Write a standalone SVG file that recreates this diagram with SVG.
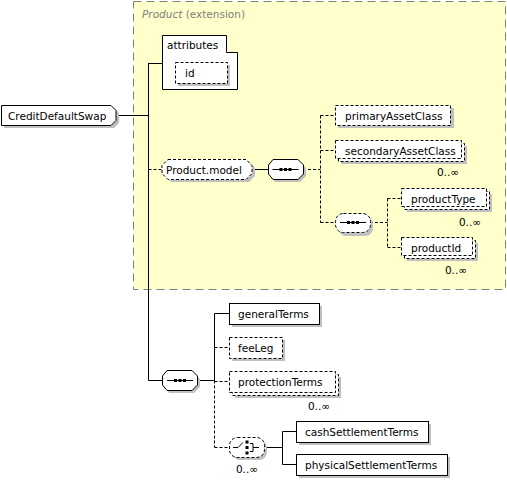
<svg xmlns="http://www.w3.org/2000/svg" width="507" height="481" viewBox="0 0 507 481">
<style>
text{font-family:"DejaVu Sans","Liberation Sans",sans-serif;font-size:10.5px;fill:#000}
.occ{font-size:10.5px}
.hdr{fill:#808080}
.box{fill:#fff;stroke:#000;stroke-width:1}
.opt{stroke-dasharray:3,2}
.sh{fill:#c0c0c0;stroke:none}
.ln{fill:none;stroke:#000;stroke-width:1}
.dl{fill:none;stroke:#000;stroke-width:1;stroke-dasharray:3,2}
</style>
<defs>
<g id="seqicon">
<path d="M-13 0H13" stroke="#000" stroke-width="1"/>
<rect x="-6" y="-1.5" width="3" height="3" fill="#000"/>
<rect x="-1.5" y="-1.5" width="3" height="3" fill="#000"/>
<rect x="3" y="-1.5" width="3" height="3" fill="#000"/>
</g>
</defs>
<g id="extension">
<rect x="133.5" y="1.5" width="372" height="288" fill="#ffffcc" stroke="#808080" stroke-dasharray="8,5"/>
<text x="142" y="18" class="hdr"><tspan font-style="italic">Product</tspan> (extension)</text>
</g>
<g id="connectors">
<path class="ln" d="M116 115.5H148.5M148.5 63V380.5M148.5 63.5H162M148.5 380.5H162M252 169.5H268"/>
<path class="dl" d="M148.5 169.5H162"/>
<path class="dl" d="M303 169.5H320.5M320.5 115.5V222.5M320.5 115.5H335M320.5 150.5H335M320.5 222.5H335"/>
<path class="dl" d="M370 222.5H387.5M387.5 198.5V247.5M387.5 198.5H401M387.5 247.5H401"/>
<path class="ln" d="M197 380.5H214.5M214.5 313.5V380.5M214.5 313.5H229"/>
<path class="dl" d="M214.5 380.5V447.5M214.5 347.5H229M214.5 381.5H229M214.5 447.5H229"/>
<path class="ln" d="M264 447.5H282.5M282.5 431.5V464.5M282.5 431.5H296M282.5 464.5H296"/>
</g>
<g id="CreditDefaultSwap">
<path class="sh" d="M4 108H114L119 113V123L114 128H4Z"/>
<path class="box" d="M1.5 105.5H111L116 110.5V120.5L111 125.5H1.5Z"/>
<text x="8" y="119.5">CreditDefaultSwap</text>
</g>
<g id="attributes">
<path class="box" d="M162.5 35.5H226.5V52.5H237.5V89.5H162.5Z"/>
<text x="167" y="49">attributes</text>
</g>
<g id="id">
<rect class="sh" x="178" y="65" width="52" height="21"/>
<rect class="box opt" x="175.5" y="62.5" width="52" height="21"/>
<text x="185" y="77">id</text>
</g>
<g id="Product.model">
<path class="sh" d="M171 162H249L255 168V176L249 182H171L165 176V168Z"/>
<path class="box opt" d="M168 159.5H246L252 165.5V173.5L246 179.5H168L162 173.5V165.5Z"/>
<text x="166" y="174">Product.model</text>
</g>
<g id="seq1">
<path class="sh" d="M275 162H300L306 168V176L300 182H275L271 176V168Z"/>
<path class="box" d="M273 159.5H298L303.5 165V174L298 179.5H273L268.5 174V165Z"/>
<use href="#seqicon" x="285.5" y="169.5"/>
</g>
<g id="primaryAssetClass">
<rect class="sh" x="338" y="108" width="116" height="20"/>
<rect class="box opt" x="335.5" y="105.5" width="115" height="20"/>
<text x="345" y="120">primaryAssetClass</text>
</g>
<g id="secondaryAssetClass">
<rect class="sh" x="341" y="146" width="126" height="18"/>
<rect class="box opt" x="338.5" y="143.5" width="126" height="18"/>
<rect class="box opt" x="335.5" y="140.5" width="126" height="18"/>
<text x="345" y="155">secondaryAssetClass</text>
<text class="occ" x="459" y="176" text-anchor="end">0..∞</text>
</g>
<g id="seq2">
<rect class="sh" x="338" y="216" width="35" height="20" rx="8"/>
<rect class="box opt" x="335.5" y="213.5" width="35" height="19" rx="8"/>
<use href="#seqicon" x="353" y="222.5"/>
</g>
<g id="productType">
<rect class="sh" x="407" y="194" width="85" height="18"/>
<rect class="box opt" x="404.5" y="191.5" width="85" height="18"/>
<rect class="box opt" x="401.5" y="188.5" width="85" height="18"/>
<text x="411" y="203">productType</text>
<text class="occ" x="481" y="226" text-anchor="end">0..∞</text>
</g>
<g id="productId">
<rect class="sh" x="407" y="243" width="71" height="18"/>
<rect class="box opt" x="404.5" y="240.5" width="71" height="18"/>
<rect class="box opt" x="401.5" y="237.5" width="71" height="18"/>
<text x="411" y="252">productId</text>
<text class="occ" x="467" y="274" text-anchor="end">0..∞</text>
</g>
<g id="seq3">
<path class="sh" d="M169 373H194L200 379V387L194 393H169L165 387V379Z"/>
<path class="box" d="M167 370.5H192L197.5 376V385L192 390.5H167L162.5 385V376Z"/>
<use href="#seqicon" x="180" y="380.5"/>
</g>
<g id="generalTerms">
<rect class="sh" x="232" y="306" width="90" height="21"/>
<rect class="box" x="229.5" y="303.5" width="90" height="21"/>
<text x="238" y="318">generalTerms</text>
</g>
<g id="feeLeg">
<rect class="sh" x="232" y="340" width="53" height="21"/>
<rect class="box opt" x="229.5" y="337.5" width="53" height="21"/>
<text x="238" y="352">feeLeg</text>
</g>
<g id="protectionTerms">
<rect class="sh" x="235" y="377" width="106" height="21"/>
<rect class="box opt" x="232.5" y="374.5" width="106" height="21"/>
<rect class="box opt" x="229.5" y="371.5" width="106" height="21"/>
<text x="238" y="386">protectionTerms</text>
<text class="occ" x="330" y="410" text-anchor="end">0..∞</text>
</g>
<g id="choice">
<rect class="sh" x="232" y="440" width="35" height="20" rx="8"/>
<rect class="box opt" x="229.5" y="437.5" width="35" height="20" rx="8"/>
<path class="ln" d="M233 447.5H238L243 442.5M250 443.5H253V451.5H250M253 447.5H259"/>
<rect x="245.5" y="440.5" width="3" height="3" fill="#000"/>
<rect x="245.5" y="446" width="3" height="3" fill="#000"/>
<rect x="245.5" y="451.5" width="3" height="3" fill="#000"/>
<text class="occ" x="258" y="473" text-anchor="end">0..∞</text>
</g>
<g id="cashSettlementTerms">
<rect class="sh" x="299" y="424" width="132" height="21"/>
<rect class="box" x="296.5" y="421.5" width="132" height="21"/>
<text x="305" y="436">cashSettlementTerms</text>
</g>
<g id="physicalSettlementTerms">
<rect class="sh" x="299" y="457" width="151" height="21"/>
<rect class="box" x="296.5" y="454.5" width="151" height="21"/>
<text x="305" y="469">physicalSettlementTerms</text>
</g>
</svg>
